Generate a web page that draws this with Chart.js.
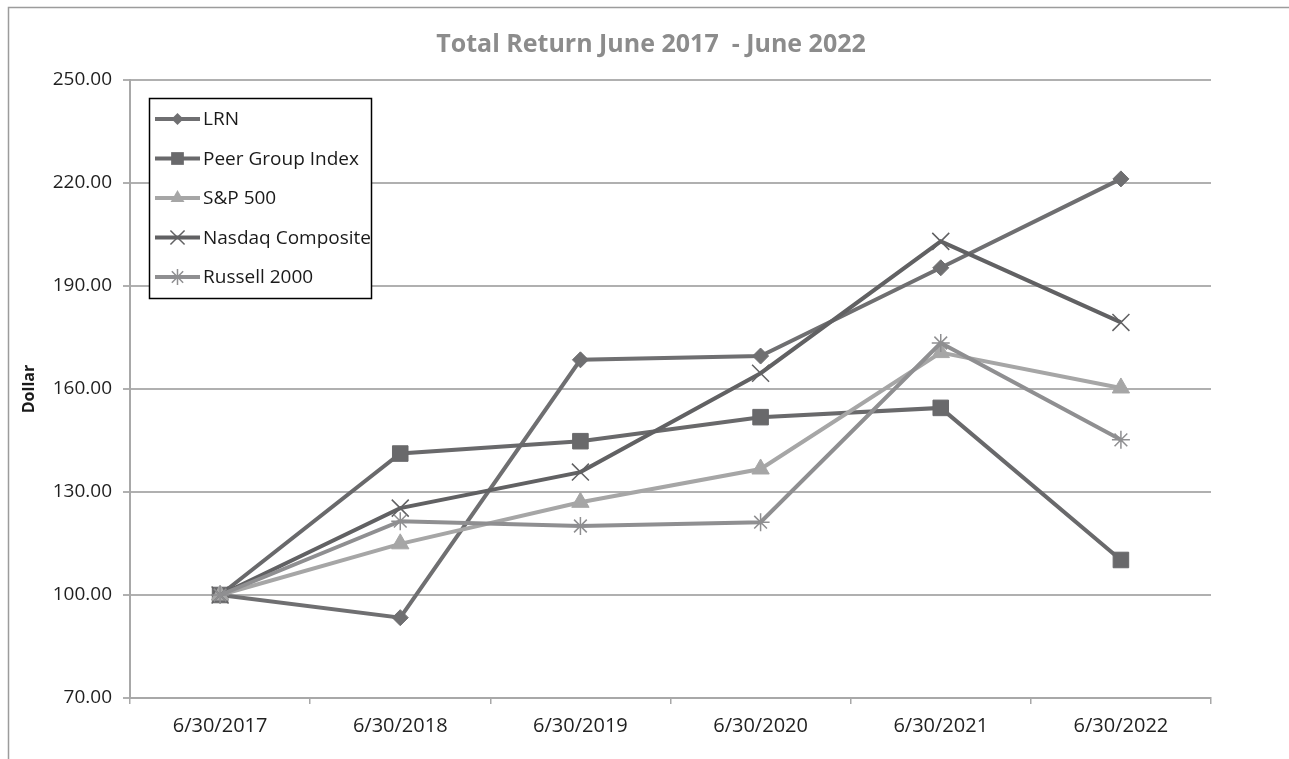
<!DOCTYPE html>
<html>
<head>
<meta charset="utf-8">
<script src="https://cdn.jsdelivr.net/npm/chart.js@4/dist/chart.umd.min.js"></script>
<style>
  html, body { margin: 0; padding: 0; background: #ffffff; }
  #wrap { width: 1289px; height: 759px; position: relative; }
</style>
</head>
<body>
<div id="wrap"><canvas id="c" width="1289" height="759"></canvas></div>
<script>
const categories = ['6/30/2017', '6/30/2018', '6/30/2019', '6/30/2020', '6/30/2021', '6/30/2022'];
const seriesNames = ['LRN', 'Peer Group Index', 'S&P 500', 'Nasdaq Composite', 'Russell 2000'];
const lrn     = [100.00,  93.4, 168.5, 169.6, 195.3, 221.2];
const peer    = [100.00, 141.2, 144.8, 151.8, 154.5, 110.2];
const sp500   = [100.00, 114.9, 127.0, 136.7, 170.6, 160.3];
const nasdaq  = [100.00, 125.3, 135.8, 164.6, 203.0, 179.4];
const russell = [100.00, 121.5, 120.1, 121.2, 173.4, 145.2];
const yTicks  = [70, 100, 130, 160, 190, 220, 250];
const titleText = 'Total Return June 2017  - June 2022';

const FONT = "'Open Sans', 'DejaVu Sans', sans-serif";

const styles = [
  { color: '#6f6f71', point: 'rectRot',  r: 8,  lr: 6,  pbw: 1 },
  { color: '#69696b', point: 'rect',     r: 11, lr: 9,  pbw: 1 },
  { color: '#a6a6a6', point: 'triangle', r: 10, lr: 8,  pbw: 1 },
  { color: '#616163', point: 'crossRot', r: 12, lr: 10, pbw: 1.5 },
  { color: '#8f8f91', point: 'star',     r: 9,  lr: 8,  pbw: 1.5 }
];
const seriesData = [lrn, peer, sp500, nasdaq, russell];

const datasets = seriesData.map((d, i) => ({
  label: seriesNames[i],
  data: d,
  borderColor: styles[i].color,
  backgroundColor: styles[i].color,
  borderWidth: 4,
  pointStyle: styles[i].point,
  pointRadius: styles[i].r,
  pointHoverRadius: styles[i].r,
  pointBorderWidth: styles[i].pbw,
  pointBackgroundColor: styles[i].color,
  pointBorderColor: styles[i].color,
  tension: 0,
  order: 4 - i
}));

function drawMarker(ctx, style, x, y, r, color, lw) {
  ctx.save();
  ctx.fillStyle = color;
  ctx.strokeStyle = color;
  ctx.lineWidth = lw;
  ctx.beginPath();
  if (style === 'rectRot') {
    ctx.moveTo(x, y - r); ctx.lineTo(x + r, y); ctx.lineTo(x, y + r); ctx.lineTo(x - r, y); ctx.closePath();
    ctx.fill();
  } else if (style === 'rect') {
    const s = r * Math.SQRT1_2;
    ctx.rect(x - s, y - s, 2 * s, 2 * s); ctx.fill();
  } else if (style === 'triangle') {
    const h = r * 0.866;
    ctx.moveTo(x, y - r); ctx.lineTo(x + h, y + r / 2); ctx.lineTo(x - h, y + r / 2); ctx.closePath();
    ctx.fill();
  } else if (style === 'crossRot') {
    const s = r * Math.SQRT1_2;
    ctx.moveTo(x - s, y - s); ctx.lineTo(x + s, y + s);
    ctx.moveTo(x - s, y + s); ctx.lineTo(x + s, y - s);
    ctx.stroke();
  } else if (style === 'star') {
    const s = r * Math.SQRT1_2;
    ctx.moveTo(x - s, y - s); ctx.lineTo(x + s, y + s);
    ctx.moveTo(x - s, y + s); ctx.lineTo(x + s, y - s);
    ctx.moveTo(x, y - r); ctx.lineTo(x, y + r);
    ctx.moveTo(x - r, y); ctx.lineTo(x + r, y);
    ctx.stroke();
  }
  ctx.restore();
}

const frame = {
  id: 'frame',
  beforeDraw(chart) {
    const ctx = chart.ctx;
    ctx.save();
    ctx.fillStyle = '#ffffff';
    ctx.fillRect(0, 0, chart.width, chart.height);
    ctx.strokeStyle = '#9c9c9c';
    ctx.lineWidth = 1.5;
    ctx.beginPath();
    ctx.moveTo(8.5, chart.height + 2);
    ctx.lineTo(8.5, 7.5);
    ctx.lineTo(chart.width + 2, 7.5);
    ctx.stroke();
    ctx.font = 'bold 25px ' + FONT;
    ctx.fillStyle = '#8c8c8c';
    ctx.textAlign = 'center';
    ctx.textBaseline = 'middle';
    ctx.fillText(titleText, 651, 45);
    ctx.restore();
  }
};

const boxLegend = {
  id: 'boxLegend',
  afterDraw(chart) {
    const ctx = chart.ctx;
    const x0 = 149.5, y0 = 98.5, w = 222, h = 200;
    ctx.save();
    ctx.fillStyle = '#ffffff';
    ctx.fillRect(x0, y0, w, h);
    ctx.strokeStyle = '#000000';
    ctx.lineWidth = 1.5;
    ctx.strokeRect(x0, y0, w, h);
    ctx.font = '19px ' + FONT;
    ctx.textBaseline = 'middle';
    ctx.textAlign = 'left';
    chart.data.datasets.forEach((ds, i) => {
      const y = 119 + i * 39.5;
      ctx.strokeStyle = styles[i].color;
      ctx.lineWidth = 4;
      ctx.beginPath();
      ctx.moveTo(155, y);
      ctx.lineTo(200, y);
      ctx.stroke();
      drawMarker(ctx, styles[i].point, 177.5, y, styles[i].lr, styles[i].color, styles[i].pbw);
      ctx.fillStyle = '#1a1a1a';
      ctx.fillText(ds.label, 203, y + 1);
    });
    ctx.restore();
  }
};

new Chart(document.getElementById('c'), {
  type: 'line',
  data: { labels: categories, datasets },
  options: {
    responsive: false,
    animation: false,
    events: [],
    layout: { padding: { left: 0, right: 78, top: 80, bottom: 0 } },
    plugins: {
      legend: { display: false },
      tooltip: { enabled: false },
      title: { display: false }
    },
    scales: {
      x: {
        offset: true,
        grid: {
          offset: true,
          drawOnChartArea: false,
          drawTicks: true,
          tickLength: 6,
          color: '#a8a8a8',
          lineWidth: 1.5
        },
        border: { display: true, color: '#a8a8a8', width: 2 },
        ticks: {
          color: '#1f1f1f',
          font: { family: FONT, size: 20 },
          padding: 10,
          maxRotation: 0,
          autoSkip: false
        },
        afterFit(s) { s.height = 61; }
      },
      y: {
        min: 70,
        max: 250,
        afterBuildTicks(s) { s.ticks = yTicks.map(v => ({ value: v })); },
        grid: {
          color: '#b0b0b0',
          lineWidth: 2,
          drawTicks: true,
          tickLength: 7
        },
        border: { display: true, color: '#a8a8a8', width: 2 },
        ticks: {
          color: '#1f1f1f',
          font: { family: FONT, size: 19 },
          padding: 11,
          callback: v => Number(v).toFixed(2)
        },
        title: {
          display: true,
          text: 'Dollar',
          color: '#1a1a1a',
          font: { family: FONT, size: 16, weight: 'bold' },
          padding: { top: 20, bottom: 0 }
        },
        afterFit(s) { s.width = 130; }
      }
    }
  },
  plugins: [frame, boxLegend]
});
</script>
</body>
</html>
